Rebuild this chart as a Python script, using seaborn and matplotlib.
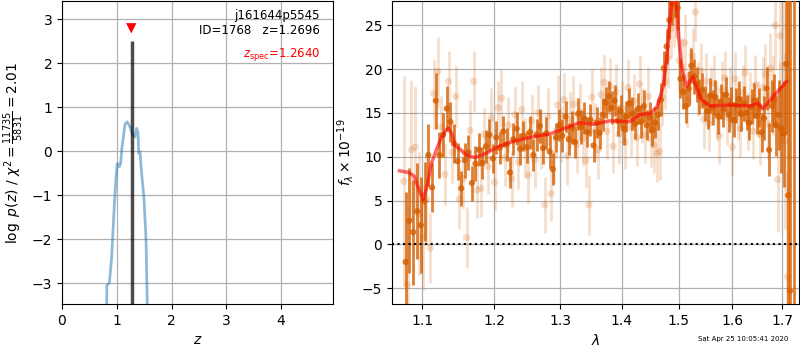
import numpy as np
import pandas as pd
import matplotlib
matplotlib.use("Agg")
import matplotlib.pyplot as plt
import seaborn as sns
from matplotlib.ticker import FixedLocator, FormatStrFormatter, NullLocator

# ---------------- data ----------------
# p(z) curve
pz_z = [0.816, 0.818, 0.865, 0.907, 0.95, 0.986, 1.01, 1.047, 1.07, 1.096, 1.12, 1.15,
        1.19, 1.24, 1.29, 1.333, 1.364, 1.388, 1.40, 1.425, 1.443, 1.498, 1.534, 1.558]
pz_logp = [-3.6, -3.05, -3.0, -2.4, -1.34, -0.58, -0.28, -0.35, -0.28, 0.10, 0.33, 0.62,
           0.67, 0.56, 0.37, 0.33, 0.52, 0.41, -0.05, -0.01, -0.35, -1.11, -2.02, -3.6]
z_best = 1.2696
z_best_top = 2.52
z_spec = 1.2640
z_spec_marker_y = 2.80

# binned (dark) spectrum
dark_wave = [1.078, 1.083, 1.088, 1.093, 1.098, 1.103, 1.108, 1.113, 1.118, 1.123,
             1.128, 1.133, 1.138, 1.143, 1.148, 1.153, 1.158, 1.163, 1.168, 1.173,
             1.178, 1.183, 1.188, 1.193, 1.198, 1.203, 1.208, 1.213, 1.218, 1.223,
             1.228, 1.233, 1.238, 1.243, 1.248, 1.253, 1.258, 1.263, 1.268, 1.273,
             1.278, 1.283, 1.288, 1.293, 1.298, 1.303, 1.308, 1.313, 1.318, 1.323,
             1.328, 1.333, 1.338, 1.343, 1.348, 1.353, 1.358, 1.363, 1.368, 1.373,
             1.378, 1.383, 1.388, 1.393, 1.398, 1.403, 1.408, 1.413, 1.418, 1.423,
             1.428, 1.433, 1.438, 1.443, 1.448, 1.453, 1.458, 1.463, 1.468, 1.473,
             1.478, 1.483, 1.488, 1.493, 1.498, 1.503, 1.508, 1.513, 1.518, 1.523,
             1.528, 1.533, 1.538, 1.543, 1.548, 1.553, 1.558, 1.563, 1.568, 1.573,
             1.578, 1.583, 1.588, 1.593, 1.598, 1.603, 1.608, 1.613, 1.618, 1.623,
             1.628, 1.633, 1.638, 1.643, 1.648, 1.653, 1.658, 1.663, 1.668, 1.673,
             1.678, 1.683, 1.688, 1.693, 1.698, 1.703, 1.708, 1.712, 1.716, 1.724]
dark_flux = [-2.0, 2.7, 1.4, 3.8, 2.2, 4.9, 10.2, 6.5, 16.4, 10.2,
             12.5, 15.5, 14.0, 11.5, 9.5, 6.4, 9.6, 10.5, 7.0, 9.2,
             10.8, 9.3, 11.2, 12.5, 9.8, 12.2, 11.0, 12.9, 11.4, 8.2,
             12.0, 13.2, 10.9, 12.4, 11.1, 12.8, 10.2, 12.5, 13.5, 11.0,
             12.7, 10.6, 8.6, 12.2, 13.6, 12.4, 14.6, 12.0, 13.3, 11.7,
             14.9, 13.4, 14.4, 12.8, 14.2, 11.3, 13.9, 12.7, 14.8, 16.2,
             16.9, 15.6, 16.4, 14.1, 15.2, 13.2, 14.6, 16.1, 14.9, 13.8,
             15.5, 14.0, 15.8, 13.6, 14.5, 13.1, 13.9, 14.8, 16.5, 20.1,
             22.6, 25.6, 27.5, 28.5, 27.0, 18.9, 17.4, 15.8, 17.8, 20.4,
             19.2, 18.3, 16.9, 17.6, 16.1, 15.2, 17.0, 15.6, 16.8, 14.6,
             16.3, 15.4, 17.1, 14.8, 16.0, 14.2, 15.9, 16.6, 14.9, 16.1,
             15.0, 13.9, 15.7, 16.4, 14.7, 15.6, 12.8, 14.4, 17.8, 10.8,
             15.8, 16.4, 13.6, 14.8, 13.2, 12.6, 20.6, 5.6, -5.3, 30.0]
dark_err = [8.0, 6.0, 6.0, 5.5, 5.5, 4.5, 3.5, 2.8, 3.2, 2.6,
            2.5, 2.6, 2.3, 2.2, 2.1, 2.0, 2.0, 2.0, 2.0, 2.0,
            1.9, 1.8, 1.9, 1.8, 1.7, 1.9, 1.8, 1.8, 1.9, 1.8,
            1.8, 1.9, 1.8, 1.7, 1.8, 1.9, 1.8, 1.8, 1.9, 1.8,
            1.8, 1.9, 1.8, 1.7, 1.8, 1.9, 1.8, 1.8, 1.9, 1.8,
            1.8, 1.9, 1.8, 1.7, 1.8, 1.9, 1.8, 1.8, 1.9, 1.8,
            1.8, 1.9, 1.8, 1.7, 1.8, 1.9, 1.8, 1.8, 1.9, 1.8,
            1.8, 1.9, 1.8, 1.7, 1.8, 1.9, 1.8, 1.8, 1.9, 2.0,
            2.0, 2.2, 2.5, 2.5, 2.5, 2.2, 2.0, 2.0, 2.0, 2.0,
            2.0, 2.0, 2.0, 2.0, 2.0, 2.0, 2.0, 2.0, 2.0, 2.0,
            2.0, 2.0, 2.0, 2.0, 2.0, 2.0, 2.0, 2.0, 2.0, 2.0,
            2.0, 2.0, 2.0, 2.0, 2.1, 2.2, 2.2, 2.5, 2.5, 3.0,
            3.0, 3.0, 3.5, 4.0, 5.0, 6.0, 8.0, 40.0, 40.0, 60.0]

# unbinned (light) spectrum
light_wave = [1.0755, 1.0805, 1.0855, 1.0905, 1.0955, 1.1005, 1.1055, 1.1105, 1.1155, 1.1205,
              1.1255, 1.1305, 1.1355, 1.1405, 1.1455, 1.1505, 1.1555, 1.1605, 1.1655, 1.1705,
              1.1755, 1.1805, 1.1855, 1.1905, 1.1955, 1.2005, 1.2055, 1.2105, 1.2155, 1.2205,
              1.2255, 1.2305, 1.2355, 1.2405, 1.2455, 1.2505, 1.2555, 1.2605, 1.2655, 1.2705,
              1.2755, 1.2805, 1.2855, 1.2905, 1.2955, 1.3005, 1.3055, 1.3105, 1.3155, 1.3205,
              1.3255, 1.3305, 1.3355, 1.3405, 1.3455, 1.3505, 1.3555, 1.3605, 1.3655, 1.3705,
              1.3755, 1.3805, 1.3855, 1.3905, 1.3955, 1.4005, 1.4055, 1.4105, 1.4155, 1.4205,
              1.4255, 1.4305, 1.4355, 1.4405, 1.4455, 1.4505, 1.4555, 1.4605, 1.4655, 1.4705,
              1.4755, 1.4805, 1.4855, 1.4905, 1.4955, 1.5005, 1.5055, 1.5105, 1.5155, 1.5205,
              1.5255, 1.5305, 1.5355, 1.5405, 1.5455, 1.5505, 1.5555, 1.5605, 1.5655, 1.5705,
              1.5755, 1.5805, 1.5855, 1.5905, 1.5955, 1.6005, 1.6055, 1.6105, 1.6155, 1.6205,
              1.6255, 1.6305, 1.6355, 1.6405, 1.6455, 1.6505, 1.6555, 1.6605, 1.6655, 1.6705,
              1.6755, 1.6805, 1.6855, 1.6905, 1.6955, 1.7005, 1.7055, 1.7105]
light_flux = [7.2, -4.6, 10.8, 11.1, 3.5, 0.8, 5.2, -0.4, 17.2, 19.7,
              13.4, 8.0, 18.6, 10.5, 16.9, 5.2, 7.5, 0.8, 13.0, 18.6,
              6.2, 6.4, 12.5, 8.9, 14.4, 7.1, 15.6, 16.7, 9.9, 13.6,
              7.5, 14.8, 9.4, 15.4, 11.0, 7.9, 14.1, 9.7, 15.0, 11.8,
              4.5, 14.6, 5.8, 10.2, 15.9, 12.6, 16.5, 10.1, 14.2, 16.0,
              11.4, 15.1, 12.1, 9.6, 4.5, 16.8, 13.0, 10.8, 17.1, 18.5,
              12.9, 18.0, 11.2, 17.4, 12.6, 15.5, 11.7, 17.9, 13.3, 16.3,
              12.2, 18.3, 14.7, 12.5, 16.9, 12.0, 11.3, 10.4, 10.6, 16.8,
              18.6, 21.2, 24.6, 26.0, 27.1, 21.0, 20.3, 23.0, 16.5, 19.3,
              21.5, 26.5, 17.7, 19.8, 14.3, 18.6, 13.8, 16.9, 18.4, 15.0,
              12.4, 17.6, 19.0, 14.5, 16.8, 11.1, 18.9, 15.2, 13.2, 17.3,
              19.6, 14.1, 16.6, 12.9, 18.2, 15.4, 12.6, 17.9, 19.4, 13.7,
              20.1, 17.0, 25.0, 7.4, 23.8, 20.4, 11.8, -3.7]
light_err = [12.0, 9.0, 8.0, 7.0, 7.0, 6.0, 5.0, 4.0, 4.0, 4.0,
             3.5, 3.5, 3.5, 3.5, 3.5, 3.5, 3.5, 3.5, 3.5, 3.5,
             3.2, 3.3, 3.1, 3.2, 3.4, 3.2, 3.1, 3.3, 3.2, 3.2,
             3.2, 3.3, 3.1, 3.2, 3.4, 3.2, 3.1, 3.3, 3.2, 3.2,
             3.2, 3.3, 3.1, 3.2, 3.4, 3.2, 3.1, 3.3, 3.2, 3.2,
             3.2, 3.3, 3.1, 3.2, 3.4, 3.2, 3.1, 3.3, 3.2, 3.2,
             3.2, 3.3, 3.1, 3.2, 3.4, 3.2, 3.1, 3.3, 3.2, 3.2,
             3.2, 3.3, 3.1, 3.2, 3.4, 3.2, 3.1, 3.3, 3.2, 3.2,
             3.2, 3.3, 3.3, 3.5, 3.5, 3.5, 3.2, 3.3, 3.2, 3.2,
             3.2, 3.3, 3.1, 3.2, 3.4, 3.2, 3.1, 3.3, 3.2, 3.2,
             3.2, 3.3, 3.1, 3.2, 3.4, 3.2, 3.1, 3.3, 3.2, 3.2,
             3.2, 3.3, 3.1, 3.2, 3.4, 3.2, 3.5, 3.5, 3.5, 4.0,
             4.0, 4.5, 5.0, 6.0, 7.0, 8.0, 10.0, 12.0]

# best-fit model
model_wave = [1.070, 1.082, 1.089, 1.095, 1.101, 1.106, 1.112, 1.118, 1.124, 1.131,
              1.135, 1.140, 1.144, 1.152, 1.160, 1.172, 1.188, 1.207, 1.230, 1.259,
              1.284, 1.305, 1.331, 1.353, 1.380, 1.414, 1.431, 1.449, 1.461, 1.472,
              1.478, 1.484, 1.490, 1.494, 1.499, 1.505, 1.5145, 1.520, 1.526, 1.532,
              1.542, 1.558, 1.596, 1.635, 1.651, 1.661, 1.682, 1.709]
model_flux = [8.4, 8.2, 7.8, 6.4, 5.1, 6.5, 9.2, 10.6, 11.9, 12.9,
              13.3, 12.6, 11.3, 10.8, 10.2, 9.9, 10.4, 11.2, 11.8, 12.3,
              12.6, 13.2, 13.9, 13.7, 14.1, 14.0, 14.8, 14.95, 15.7, 18.0,
              21.0, 25.6, 29.5, 29.0, 24.1, 20.3, 18.0, 18.6, 19.1, 18.0,
              16.5, 15.8, 15.9, 15.8, 16.1, 15.5, 16.9, 18.6]

wave_ticks = [1.1, 1.2, 1.3, 1.4, 1.5, 1.6, 1.7]
flux_ticks = [-5, 0, 5, 10, 15, 20, 25]
z_ticks = [0, 1, 2, 3, 4]
logp_ticks = [-3, -2, -1, 0, 1, 2, 3]

source_name = "j161644p5545"
source_id = 1768
chi2_num, chi2_den = 11735, 5831
timestamp = "Sat Apr 25 10:05:41 2020"

# ---------------- plot ----------------
plt.rcParams['font.family'] = ['DejaVu Sans']
G141_COLOR = '#d55e00'

fig = plt.figure(figsize=(8, 3.5), dpi=100)
ax1 = fig.add_axes([0.0775, 0.131, 0.339, 0.866])
ax2 = fig.add_axes([0.49, 0.131, 0.50875, 0.866])

# --- left: p(z)
pz_df = pd.DataFrame({'z': pz_z, 'logp': pz_logp})
sns.lineplot(data=pz_df, x='z', y='logp', ax=ax1, color='#1f77b4', alpha=0.5,
             lw=2, sort=False, estimator=None, zorder=3)
ylo1, yhi1 = -3.48, 3.42
ax1.vlines(z_best, ylo1, z_best_top, color='k', alpha=0.7, lw=2.5, zorder=4)
sns.scatterplot(x=[z_spec], y=[z_spec_marker_y], ax=ax1, marker='v', color='red',
                s=55, edgecolor='none', zorder=5)
ax1.set_xlim(0, 4.95)
ax1.set_ylim(ylo1, yhi1)
ax1.set_xticks(z_ticks)
ax1.set_yticks(logp_ticks)
ax1.grid(True, color='#b0b0b0', lw=0.9)
ax1.set_axisbelow(True)
ax1.set_xlabel(r'$z$', fontsize=10)
ax1.set_ylabel(r'$\log\ p(z)$ / $\chi^2=\frac{%d}{%d}=%.2f$'
               % (chi2_num, chi2_den, chi2_num / chi2_den), fontsize=10)
ax1.text(0.95, 0.975, '%s\nID=%d   z=%.4f' % (source_name, source_id, z_best),
         ha='right', va='top', transform=ax1.transAxes, fontsize=8.5, linespacing=1.25)
ax1.text(0.95, 0.825, r'$z_\mathrm{spec}$=%.4f' % z_spec, ha='right', va='center',
         transform=ax1.transAxes, fontsize=8.5, color='red')

# --- right: spectrum
ax2.set_xscale('log')
ax2.errorbar(light_wave, light_flux, yerr=light_err, fmt='none', ecolor=G141_COLOR,
             alpha=0.2, elinewidth=2, zorder=2)
sns.scatterplot(x=light_wave, y=light_flux, ax=ax2, color=G141_COLOR, alpha=0.2,
                s=28, edgecolor='none', zorder=2)
ax2.errorbar(dark_wave, dark_flux, yerr=dark_err, fmt='none', ecolor=G141_COLOR,
             alpha=0.8, elinewidth=2, zorder=3)
sns.scatterplot(x=dark_wave, y=dark_flux, ax=ax2, color=G141_COLOR, alpha=0.8,
                s=20, edgecolor='none', zorder=3)
model_df = pd.DataFrame({'wave': model_wave, 'flux': model_flux})
sns.lineplot(data=model_df, x='wave', y='flux', ax=ax2, color='red', alpha=0.6,
             lw=2.5, sort=False, estimator=None, zorder=4)
ax2.axhline(0, color='k', ls=':', lw=1.5, zorder=4)

ax2.set_xlim(1.0604, 1.7347)
ax2.set_ylim(-6.82, 27.77)
ax2.xaxis.set_major_locator(FixedLocator(wave_ticks))
ax2.xaxis.set_major_formatter(FormatStrFormatter('%.1f'))
ax2.xaxis.set_minor_locator(NullLocator())
ax2.set_yticks(flux_ticks)
ax2.grid(True, color='#b0b0b0', lw=0.9)
ax2.set_axisbelow(True)
ax2.set_xlabel(r'$\lambda$', fontsize=10)
ax2.set_ylabel(r'$f_\lambda \times 10^{-19}$', fontsize=10)

fig.text(0.985, 0.022, timestamp, ha='right', va='bottom', fontsize=5)

fig.savefig('out.png', dpi=100)
